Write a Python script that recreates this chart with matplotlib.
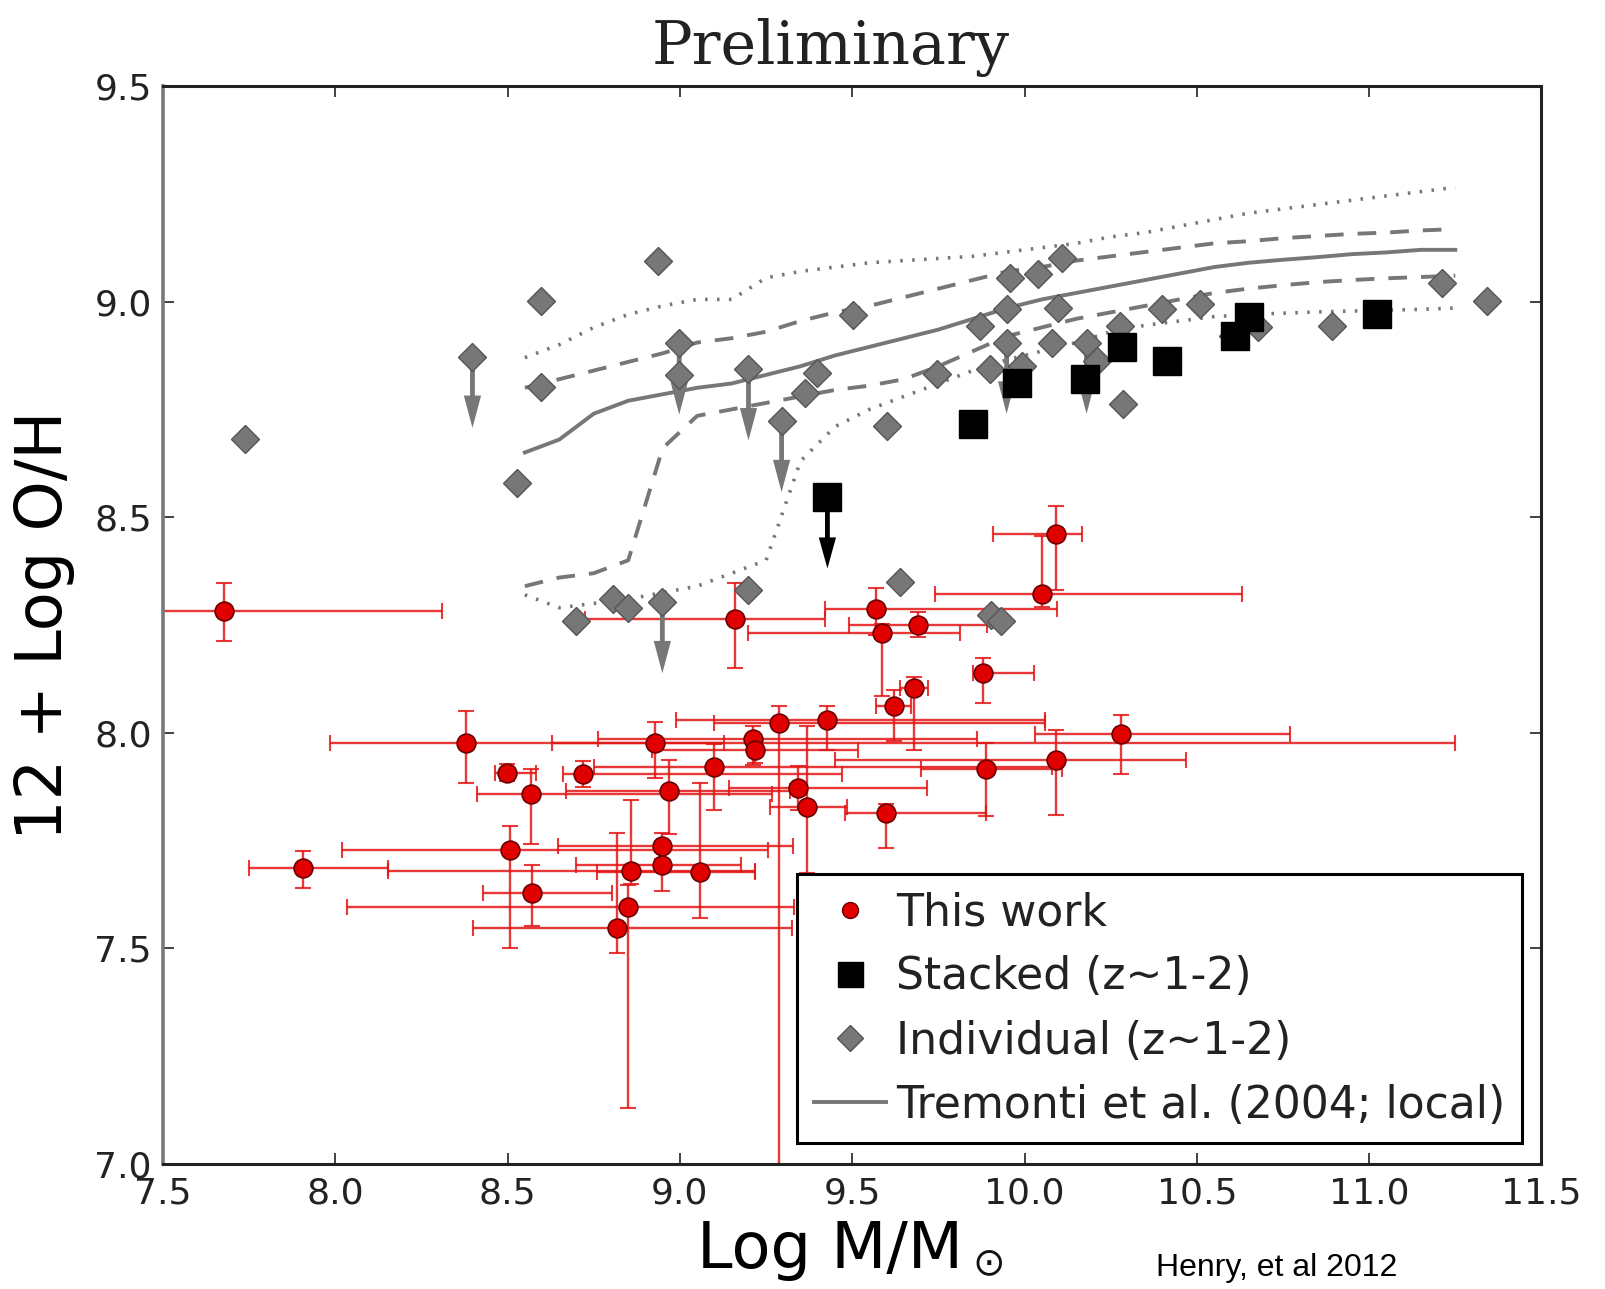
import matplotlib
matplotlib.use('Agg')
import matplotlib.pyplot as plt
from matplotlib.lines import Line2D
import numpy as np

# --- This work: log mass, 12+log(O/H) and asymmetric errors (minus, plus)
work_mass = [7.678, 7.907, 8.379, 8.497, 8.568, 8.720, 8.507, 8.570, 8.816, 8.850,
             8.857, 8.928, 8.947, 8.947, 8.968, 9.058, 9.100, 9.160, 9.211, 9.218,
             9.288, 9.342, 9.368, 9.428, 9.569, 9.586, 9.598, 9.620, 9.680, 9.690,
             9.880, 9.889, 10.050, 10.090, 10.090, 10.279]
work_oh = [8.282, 7.686, 7.977, 7.907, 7.857, 7.905, 7.727, 7.628, 7.547, 7.597,
           7.679, 7.976, 7.737, 7.694, 7.866, 7.677, 7.921, 8.264, 7.986, 7.959,
           8.023, 7.872, 7.827, 8.029, 8.286, 8.232, 7.814, 8.062, 8.104, 8.251,
           8.139, 7.916, 8.321, 8.460, 7.936, 7.996]
work_mass_lo = [0.177, 0.158, 0.394, 0.035, 0.158, 0.058, 0.489, 0.141, 0.416, 0.815,
                0.703, 0.300, 0.300, 0.250, 0.300, 0.300, 0.350, 0.435, 0.450, 0.300,
                0.190, 0.200, 0.106, 0.440, 0.148, 0.387, 0.119, 0.050, 0.040, 0.200,
                0.030, 0.190, 0.311, 0.181, 0.640, 0.250]
work_mass_hi = [0.631, 0.247, 2.870, 0.085, 0.700, 0.750, 0.750, 0.232, 0.510, 0.480,
                0.360, 0.200, 0.380, 0.230, 0.350, 0.160, 0.980, 0.260, 0.650, 0.300,
                0.770, 0.375, 0.116, 0.630, 0.525, 0.227, 0.289, 0.050, 0.040, 0.200,
                0.148, 0.220, 0.580, 0.078, 0.380, 0.490]
work_oh_lo = [0.070, 0.045, 0.093, 0.020, 0.115, 0.030, 0.227, 0.077, 0.058, 0.467,
              0.030, 0.080, 0.030, 0.062, 0.100, 0.107, 0.100, 0.113, 0.060, 0.030,
              1.050, 0.050, 0.152, 0.068, 0.060, 0.147, 0.081, 0.082, 0.143, 0.030,
              0.070, 0.110, 0.030, 0.128, 0.126, 0.091]
work_oh_hi = [0.066, 0.040, 0.073, 0.020, 0.058, 0.030, 0.056, 0.066, 0.221, 0.050,
              0.166, 0.050, 0.030, 0.030, 0.070, 0.207, 0.052, 0.084, 0.030, 0.030,
              0.040, 0.050, 0.188, 0.033, 0.050, 0.020, 0.020, 0.038, 0.026, 0.030,
              0.035, 0.060, 0.135, 0.066, 0.070, 0.046]

# --- Stacked spectra (z~1-2); last entry is an upper limit
stack_mass = [9.851, 9.977, 10.175, 10.282, 10.412, 10.611, 10.652, 11.022, 9.428]
stack_oh = [8.715, 8.812, 8.820, 8.894, 8.862, 8.920, 8.965, 8.971, 8.546]
stack_limit = [False, False, False, False, False, False, False, False, True]

# --- Individual galaxies (z~1-2)
indiv_mass = [7.738, 8.398, 8.528, 8.597, 8.597, 8.937, 8.998, 8.998, 9.199, 9.295,
              9.362, 9.399, 9.502, 9.600, 9.745, 9.871, 9.900, 9.948, 9.948, 9.958,
              9.992, 10.040, 10.079, 10.098, 10.108, 10.180, 10.209, 10.277, 10.287, 10.398,
              10.509, 10.605, 10.678, 10.891, 11.211, 11.341, 8.699, 8.807, 8.848, 8.949,
              9.199, 9.640, 9.902, 9.932]
indiv_oh = [8.681, 8.872, 8.580, 9.002, 8.803, 9.093, 8.903, 8.830, 8.843, 8.723,
            8.789, 8.835, 8.968, 8.712, 8.831, 8.944, 8.843, 8.982, 8.905, 9.054,
            8.851, 9.064, 8.905, 8.984, 9.102, 8.905, 8.862, 8.944, 8.762, 8.982,
            8.994, 8.920, 8.940, 8.943, 9.043, 9.002, 8.260, 8.311, 8.290, 8.303,
            8.331, 8.350, 8.274, 8.259]
indiv_limit = [False, True, False, False, False, False, True, False, True, True,
               False, False, False, False, False, False, False, False, True, False,
               False, False, False, False, False, True, False, False, False, False,
               False, False, False, False, False, False, False, False, False, True,
               False, False, False, False]

# --- Tremonti et al. (2004) local relation: median, 16/84 and 2.5/97.5 percentiles
trem_mass = [8.55, 8.65, 8.75, 8.85, 8.95, 9.05, 9.15, 9.25, 9.35, 9.45,
             9.55, 9.65, 9.75, 9.85, 9.95, 10.05, 10.15, 10.25, 10.35, 10.45,
             10.55, 10.65, 10.75, 10.85, 10.95, 11.05, 11.15, 11.25]
trem_p50 = [8.650, 8.680, 8.740, 8.770, 8.785, 8.800, 8.810, 8.830, 8.850, 8.875,
            8.895, 8.915, 8.935, 8.960, 8.985, 9.005, 9.020, 9.035, 9.050, 9.065,
            9.080, 9.090, 9.097, 9.103, 9.110, 9.114, 9.120, 9.120]
trem_p84 = [8.800, 8.820, 8.840, 8.860, 8.880, 8.905, 8.915, 8.930, 8.955, 8.975,
            8.990, 9.010, 9.030, 9.050, 9.070, 9.080, 9.095, 9.105, 9.115, 9.125,
            9.135, 9.140, 9.147, 9.152, 9.157, 9.160, 9.165, 9.168]
trem_p16 = [8.340, 8.360, 8.370, 8.400, 8.660, 8.735, 8.750, 8.765, 8.780, 8.795,
            8.805, 8.820, 8.850, 8.885, 8.920, 8.940, 8.960, 8.975, 8.990, 9.005,
            9.020, 9.030, 9.038, 9.045, 9.050, 9.054, 9.057, 9.060]
trem_p975 = [8.870, 8.900, 8.940, 8.970, 8.990, 9.005, 9.005, 9.055, 9.070, 9.080,
             9.090, 9.095, 9.100, 9.105, 9.115, 9.125, 9.135, 9.150, 9.160, 9.175,
             9.190, 9.205, 9.215, 9.225, 9.235, 9.245, 9.255, 9.265]
trem_p025 = [8.320, 8.290, 8.300, 8.310, 8.325, 8.340, 8.370, 8.400, 8.630, 8.710,
             8.750, 8.780, 8.810, 8.840, 8.865, 8.885, 8.905, 8.930, 8.945, 8.955,
             8.965, 8.970, 8.973, 8.976, 8.978, 8.980, 8.982, 8.985]

x_ticks = [7.5, 8.0, 8.5, 9.0, 9.5, 10.0, 10.5, 11.0, 11.5]
y_ticks = [7.0, 7.5, 8.0, 8.5, 9.0, 9.5]

LIMIT_LEN = 0.165   # length of upper-limit arrows in dex
GREY = '#777777'

fig = plt.figure(figsize=(16.06, 12.89), dpi=100)
ax = fig.add_axes([0.1015, 0.0970, 0.8583, 0.8363])

# local relation
ax.plot(trem_mass, trem_p975, color=GREY, lw=2.6, ls=(0, (0.7, 2.6)), zorder=1)
ax.plot(trem_mass, trem_p025, color=GREY, lw=2.6, ls=(0, (0.7, 2.6)), zorder=1)
ax.plot(trem_mass, trem_p84, color=GREY, lw=2.8, ls=(0, (4.8, 3.6)), zorder=1)
ax.plot(trem_mass, trem_p16, color=GREY, lw=2.8, ls=(0, (4.8, 3.6)), zorder=1)
ax.plot(trem_mass, trem_p50, color=GREY, lw=2.8, zorder=1)

# this work with error bars
ax.errorbar(work_mass, work_oh,
            xerr=[work_mass_lo, work_mass_hi], yerr=[work_oh_lo, work_oh_hi],
            fmt='none', ecolor='#e41515', elinewidth=1.7, capsize=6, capthick=1.5,
            alpha=0.85, zorder=2)
ax.plot(work_mass, work_oh, 'o', ms=13.5, mfc='#e00000', mec='#6a0000', mew=1.2, zorder=5)

# upper-limit arrows
for m, oh, lim in zip(indiv_mass, indiv_oh, indiv_limit):
    if lim:
        ax.arrow(m, oh, 0, -LIMIT_LEN, width=0.014, head_width=0.05, head_length=0.075,
                 length_includes_head=True, color=GREY, lw=0, zorder=3)
for m, oh, lim in zip(stack_mass, stack_oh, stack_limit):
    if lim:
        ax.arrow(m, oh, 0, -LIMIT_LEN, width=0.014, head_width=0.05, head_length=0.072,
                 length_includes_head=True, color='black', lw=0, zorder=3)

ax.plot(indiv_mass, indiv_oh, 'D', ms=14, mfc=GREY, mec='#555555', mew=1.0, zorder=4)
ax.plot(stack_mass, stack_oh, 's', ms=19.5, mfc='black', mec='black', zorder=6)

ax.set_xlim(7.5, 11.5)
ax.set_ylim(7.0, 9.5)
ax.set_xticks(x_ticks)
ax.set_yticks(y_ticks)
ax.set_xticklabels([f'{t:.1f}' for t in x_ticks])
ax.set_yticklabels([f'{t:.1f}' for t in y_ticks])
ax.tick_params(direction='in', length=8, width=1.2, labelsize=26, colors='#222222',
               top=True, right=True)
ax.tick_params(axis='x', pad=9)
ax.tick_params(axis='y', pad=8)
for side in ['top', 'right', 'bottom']:
    ax.spines[side].set_linewidth(2.2)
    ax.spines[side].set_color('#222222')
ax.spines['left'].set_linewidth(2.6)
ax.spines['left'].set_color('#7a7a7a')

ax.set_xlabel('Log M/M', fontsize=46)
ax.xaxis.set_label_coords(0.484, -0.051)
ax.set_ylabel('12 + Log O/H', fontsize=46, labelpad=14)
# solar symbol sits as a low subscript after the mass label
fig.text(0.615, 0.019, r'$\odot$', fontsize=28, ha='center', va='center', color='#111111')

handles = [
    Line2D([], [], ls='none', marker='o', ms=11.5, mfc='#e00000', mec='#6a0000'),
    Line2D([], [], ls='none', marker='s', ms=18, mfc='black', mec='black'),
    Line2D([], [], ls='none', marker='D', ms=13, mfc=GREY, mec='#555555'),
    Line2D([], [], color=GREY, lw=2.8),
]
labels = ['This work', 'Stacked (z~1-2)', 'Individual (z~1-2)',
          'Tremonti et al. (2004; local)']
leg = ax.legend(handles, labels, loc='lower right', bbox_to_anchor=(0.986, 0.019),
                borderaxespad=0, fontsize=31.8, numpoints=1, handlelength=1.63,
                handletextpad=0.23, borderpad=0.38, labelspacing=0.48,
                fancybox=False, framealpha=1, edgecolor='black')
leg.get_frame().set_linewidth(2.2)
for txt in leg.get_texts():
    txt.set_color('#222222')

fig.text(0.517, 0.9507, 'Preliminary', family='DejaVu Serif', fontsize=43.5,
         ha='center', va='baseline', color='#222222')
fig.text(0.795, 0.010, 'Henry, et al 2012', family='Liberation Sans', fontsize=23,
         ha='center', va='baseline', color='black')

fig.savefig('out.png', dpi=100)
